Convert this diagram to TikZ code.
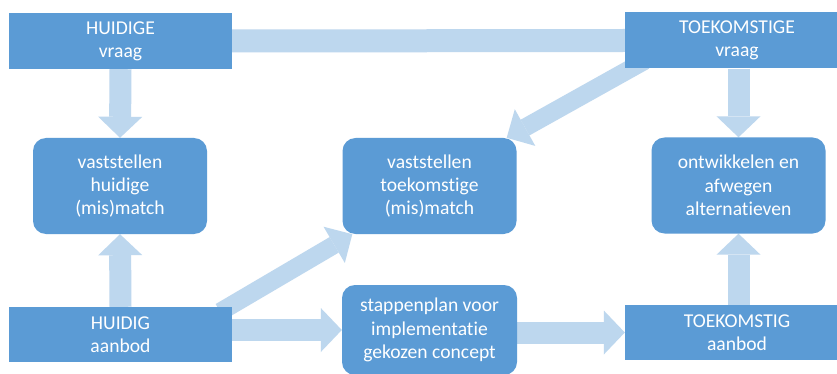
\documentclass[tikz,border=0pt]{standalone}
\usepackage{fontspec}
\setmainfont{Carlito}[Ligatures=NoCommon]
\usetikzlibrary{arrows.meta,backgrounds}
\definecolor{boxblue}{HTML}{5B9BD5}
\definecolor{arrblue}{HTML}{BDD7EE}
\begin{document}
\begin{tikzpicture}[x=1pt,y=-1pt,
  box/.style={fill=boxblue, text=white, align=center, inner sep=0pt,
    font=\fontsize{19.6}{23.3}\selectfont},
  sqbox/.style={box, minimum width=224pt, minimum height=56pt},
  rbox/.style={box, rounded corners=13pt, minimum width=174pt, minimum height=96pt},
  bigarrow/.style={draw=arrblue, line width=22pt,
    -{Triangle[width=44pt,length=21pt,line width=0pt,color=arrblue]}},
  diagarrow/.style={draw=arrblue, line width=18pt,
    -{Triangle[width=42pt,length=21pt,line width=0pt,color=arrblue]}},
  band/.style={draw=arrblue, line width=23pt}]
\useasboundingbox (0,0) rectangle (837,374);
% boxes
\node[sqbox, minimum width=223pt] (hv) at (120.5,41) {HUIDIGE\\vraag};
\node[sqbox] (tv) at (737,40.5) {TOEKOMSTIGE\\vraag};
\node[rbox] (vh) at (120,186) {vaststellen\\huidige\\(mis)match};
\node[rbox] (vt) at (429.5,186) {vaststellen\\toekomstige\\(mis)match};
\node[rbox] (ont) at (738.5,185.5) {ontwikkelen en\\afwegen\\alternatieven};
\node[sqbox, minimum width=223pt, minimum height=55pt] (ha) at (120.5,334.5) {HUIDIG\\aanbod};
\node[rbox, minimum height=90pt, minimum width=175pt] (sp) at (429.5,330) {stappenplan voor\\implementatie\\gekozen concept};
\node[sqbox, minimum height=55pt] (ta) at (737,332.5) {TOEKOMSTIG\\aanbod};
% connectors
\begin{pgfonlayer}{background}
\fill[white] (0,0) rectangle (837,374);
\draw[band] (hv.east) -- (tv.west);
\draw[bigarrow] (hv.south) -- (vh.north);
\draw[bigarrow] (ha.north) -- (vh.south);
\draw[bigarrow] (tv.south -| ont.north) -- (ont.north);
\draw[bigarrow] (ta.north -| ont.south) -- (ont.south);
\draw[bigarrow] (ha.east |- sp.west) -- (sp.west);
\draw[bigarrow] (sp.east |- ta.west) -- (ta.west);
\coordinate (d1s) at ([shift={(-12,5)}]ha.north east);
\coordinate (d1e) at ([shift={(10,0)}]vt.south west);
\draw[diagarrow] (d1s) -- (d1e);
\coordinate (d2s) at ([shift={(20,-8)}]tv.south west);
\coordinate (d2e) at ([shift={(-10,0)}]vt.north east);
\draw[diagarrow] (d2s) -- (d2e);
\end{pgfonlayer}
\end{tikzpicture}
\end{document}
